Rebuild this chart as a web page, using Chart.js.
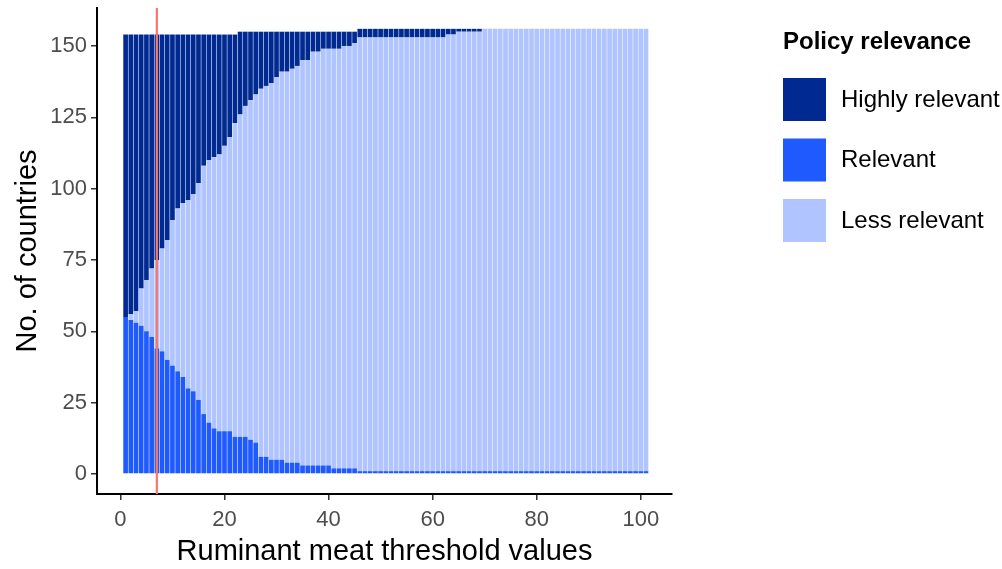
<!DOCTYPE html>
<html>
<head>
<meta charset="utf-8">
<script src="https://cdn.jsdelivr.net/npm/chart.js@4.4.1/dist/chart.umd.min.js"></script>
<style>
  body { margin: 0; background: #fff; }
  #wrap { width: 1002px; height: 569px; }
</style>
</head>
<body>
<div id="wrap"><canvas id="thresholdChart" width="1002" height="569"></canvas></div>
<script>
// threshold values on the x axis (1..101)
const thresholds = Array.from({ length: 101 }, (_, i) => i + 1);

// No. of countries per relevance class
const relevant = [
  55, 54, 53, 52, 50, 48, 44, 43, 40, 38, 36, 34, 30, 29, 26, 21, 18, 16, 15, 15,
  15, 13, 13, 13, 12, 11, 6, 6, 5, 5, 5, 4, 4, 4, 3, 3, 3, 3, 3, 3,
  2, 2, 2, 2, 2, 1, 1, 1, 1, 1, 1, 1, 1, 1, 1, 1, 1, 1, 1, 1,
  1, 1, 1, 1, 1, 1, 1, 1, 1, 1, 1, 1, 1, 1, 1, 1, 1, 1, 1, 1,
  1, 1, 1, 1, 1, 1, 1, 1, 1, 1, 1, 1, 1, 1, 1, 1, 1, 1, 1, 1,
  1
];
const lessRelevant = [
  0, 2, 4, 13, 18, 24, 31, 36, 42, 51, 57, 61, 66, 69, 76, 87, 92, 95, 97, 100,
  103, 110, 113, 116, 119, 122, 129, 130, 132, 134, 136, 137, 138, 139, 142, 142, 145, 145, 146, 146,
  147, 147, 148, 148, 149, 152, 152, 152, 152, 152, 152, 152, 152, 152, 152, 152, 152, 152, 152, 152,
  152, 152, 153, 153, 154, 154, 154, 154, 154, 155, 155, 155, 155, 155, 155, 155, 155, 155, 155, 155,
  155, 155, 155, 155, 155, 155, 155, 155, 155, 155, 155, 155, 155, 155, 155, 155, 155, 155, 155, 155,
  155
];
const highlyRelevant = [
  99, 98, 97, 89, 86, 82, 79, 75, 72, 65, 61, 59, 58, 56, 52, 46, 44, 43, 42, 39,
  36, 31, 29, 26, 24, 22, 20, 19, 18, 16, 14, 14, 13, 12, 10, 10, 7, 7, 6, 6,
  6, 6, 5, 5, 4, 3, 3, 3, 3, 3, 3, 3, 3, 3, 3, 3, 3, 3, 3, 3,
  3, 3, 2, 2, 1, 1, 1, 1, 1, 0, 0, 0, 0, 0, 0, 0, 0, 0, 0, 0,
  0, 0, 0, 0, 0, 0, 0, 0, 0, 0, 0, 0, 0, 0, 0, 0, 0, 0, 0, 0,
  0
];

const xTicks = [0, 20, 40, 60, 80, 100];
const yTicks = [0, 25, 50, 75, 100, 125, 150];
const markerValue = 7;

const colors = {
  highly: '#002a91',
  relevant: '#1f5aff',
  less: '#b0c4ff',
  marker: '#f8766d'
};

const legendItems = [
  { label: 'Highly relevant', color: colors.highly },
  { label: 'Relevant', color: colors.relevant },
  { label: 'Less relevant', color: colors.less }
];

const fontFamily = '"Liberation Sans", Arial, sans-serif';

function toPoints(values) {
  return values.map((v, i) => ({ x: thresholds[i], y: v }));
}

// red vertical line at the chosen threshold
const markerLine = {
  id: 'markerLine',
  afterDatasetsDraw(chart) {
    const { ctx, chartArea, scales } = chart;
    const x = scales.x.getPixelForValue(markerValue);
    ctx.save();
    ctx.strokeStyle = colors.marker;
    ctx.lineWidth = 2.2;
    ctx.beginPath();
    ctx.moveTo(x, chartArea.top);
    ctx.lineTo(x, chartArea.bottom);
    ctx.stroke();
    ctx.restore();
  }
};

// legend drawn by hand on the right side
const sideLegend = {
  id: 'sideLegend',
  afterDraw(chart) {
    const ctx = chart.ctx;
    ctx.save();
    ctx.textBaseline = 'middle';
    ctx.fillStyle = '#000';
    ctx.font = 'bold 24px ' + fontFamily;
    ctx.fillText('Policy relevance', 783, 42);
    ctx.font = '24px ' + fontFamily;
    legendItems.forEach((item, i) => {
      const top = 78 + i * 60.5;
      ctx.fillStyle = item.color;
      ctx.fillRect(783, top, 43, 43);
      ctx.fillStyle = '#000';
      ctx.fillText(item.label, 841, top + 22);
    });
    ctx.restore();
  }
};

const ctx = document.getElementById('thresholdChart').getContext('2d');
const thresholdChart = new Chart(ctx, {
  type: 'bar',
  data: {
    datasets: [
      { label: 'Relevant', data: toPoints(relevant), backgroundColor: colors.relevant },
      { label: 'Less relevant', data: toPoints(lessRelevant), backgroundColor: colors.less },
      { label: 'Highly relevant', data: toPoints(highlyRelevant), backgroundColor: colors.highly }
    ]
  },
  options: {
    responsive: false,
    animation: false,
    borderWidth: 0,
    barPercentage: 0.9,
    categoryPercentage: 1,
    layout: { padding: { left: 0, right: 330, top: 8, bottom: 0 } },
    plugins: {
      legend: { display: false },
      tooltip: { enabled: false }
    },
    scales: {
      x: {
        type: 'linear',
        stacked: true,
        offset: false,
        min: -4.5,
        max: 106,
        afterBuildTicks: (scale) => { scale.ticks = xTicks.map(v => ({ value: v })); },
        afterFit: (scale) => { scale.height = 75; },
        grid: { offset: false, drawOnChartArea: false, drawTicks: true, tickLength: 6, color: '#333', lineWidth: 1.5 },
        border: { display: true, color: '#000', width: 2 },
        ticks: {
          color: '#4d4d4d',
          font: { family: fontFamily, size: 22 },
          padding: 7,
          maxRotation: 0
        },
        title: {
          display: true,
          text: 'Ruminant meat threshold values',
          color: '#000',
          font: { family: fontFamily, size: 29 },
          padding: { top: 0, bottom: 0 }
        }
      },
      y: {
        stacked: true,
        min: -7.0,
        max: 163.3,
        afterBuildTicks: (scale) => { scale.ticks = yTicks.map(v => ({ value: v })); },
        afterFit: (scale) => {
          scale.width = 97;
          scale.paddingTop = 0;
          scale.paddingBottom = 0;
        },
        grid: { drawOnChartArea: false, drawTicks: true, tickLength: 6, color: '#333', lineWidth: 1.5 },
        border: { display: true, color: '#000', width: 2 },
        ticks: {
          color: '#4d4d4d',
          font: { family: fontFamily, size: 22 },
          padding: 4
        },
        title: {
          display: true,
          text: 'No. of countries',
          color: '#000',
          font: { family: fontFamily, size: 29 },
          padding: { top: 11, bottom: 0 }
        }
      }
    }
  },
  plugins: [markerLine, sideLegend]
});
</script>
</body>
</html>
